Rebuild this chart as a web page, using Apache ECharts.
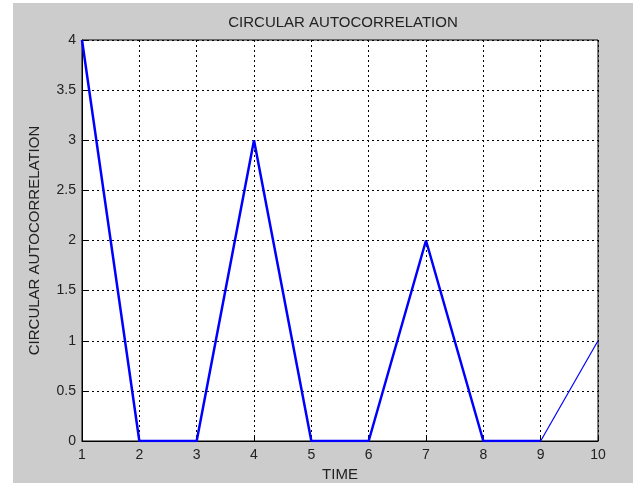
<!DOCTYPE html>
<html><head><meta charset="utf-8">
<script src="https://cdn.jsdelivr.net/npm/echarts@6/dist/echarts.min.js"></script>
<style>html,body{margin:0;padding:0;background:#fff;}#main{width:633px;height:483px;}</style>
</head><body><div id="main"></div>
<script>
const categories = [1,2,3,4,5,6,7,8,9,10];
const values = [4,0,0,3,0,0,2,0,0,1];
const yTicks = [0,0.5,1,1.5,2,2.5,3,3.5,4];

const thick = values.map((v,i)=> i<=8 ? [categories[i], v] : [categories[i], null]);
const thin = values.map((v,i)=> i>=8 ? [categories[i], v] : [categories[i], null]);

const chart = echarts.init(document.getElementById('main'), null, {renderer:'canvas'});
const txt = '#222';
const font = 'Liberation Sans, Arial, sans-serif';
chart.setOption({
  animation:false,
  backgroundColor:'transparent',
  graphic:[{type:'rect', left:13, top:3, shape:{width:620,height:480}, style:{fill:'#cccccc'}, z:-10}],
  title:{text:'CIRCULAR AUTOCORRELATION', left:338, top:10, textAlign:'center',
    textStyle:{fontFamily:font,fontSize:15,fontWeight:'normal',color:txt}},
  grid:{left:82,right:35,top:40,bottom:42,outerBoundsMode:'none',containLabel:false,show:true,backgroundColor:'#fff',borderColor:'#000',borderWidth:1},
  xAxis:{type:'value',min:1,max:10,interval:1,name:'TIME',nameLocation:'middle',nameGap:26,
    nameTextStyle:{fontFamily:font,fontSize:15,color:txt},
    axisLine:{show:true,lineStyle:{color:'#000'}},
    axisTick:{show:true,inside:true,length:5,lineStyle:{color:'#000'}},
    axisLabel:{fontFamily:font,fontSize:14,color:txt,margin:7},
    splitLine:{show:true,lineStyle:{color:'#000',type:[2,3],width:1}}},
  yAxis:{type:'value',min:0,max:4,interval:0.5,name:'CIRCULAR AUTOCORRELATION',nameLocation:'middle',nameGap:40,
    nameTextStyle:{fontFamily:font,fontSize:15,color:txt},
    axisLine:{show:true,lineStyle:{color:'#000'}},
    axisTick:{show:true,inside:true,length:5,lineStyle:{color:'#000'}},
    axisLabel:{fontFamily:font,fontSize:14,color:txt,margin:6,formatter:v=>String(v)},
    splitLine:{show:true,lineStyle:{color:'#000',type:[2,3],width:1}}},
  series:[
    {type:'line',data:thick,showSymbol:false,symbol:'none',lineStyle:{color:'#0000ff',width:2.5},connectNulls:false},
    {type:'line',data:thin,showSymbol:false,symbol:'none',lineStyle:{color:'#0000ff',width:1.2},connectNulls:false}
  ]
});
</script></body></html>
